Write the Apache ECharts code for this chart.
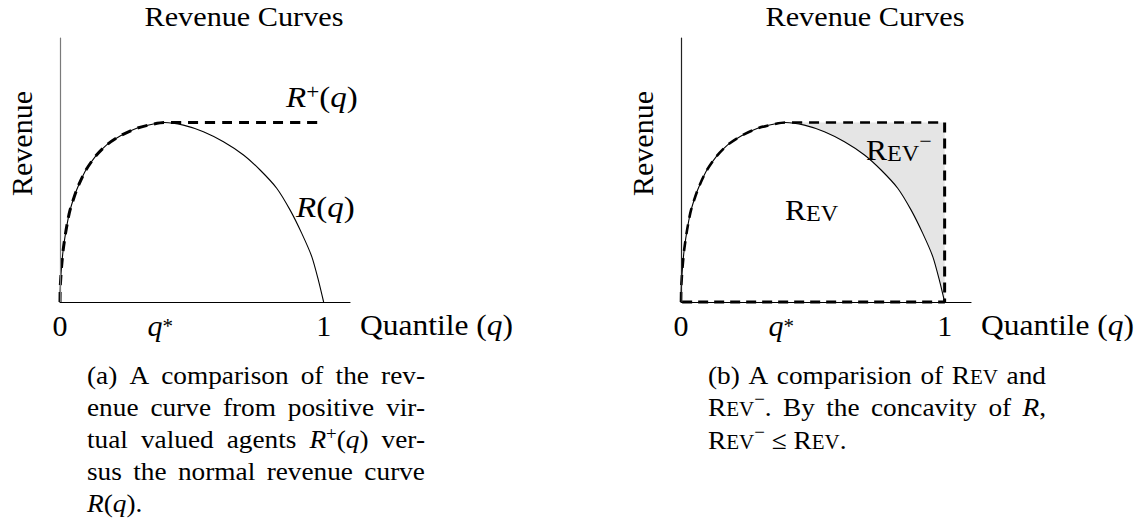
<!DOCTYPE html>
<html>
<head>
<meta charset="utf-8">
<script src="https://cdn.jsdelivr.net/npm/echarts@6/dist/echarts.min.js"></script>
<style>
  html, body { margin: 0; padding: 0; background: #fff; }
  #chart { width: 1143px; height: 522px; }
</style>
</head>
<body>
<div id="chart"></div>
<script>
// Quantile q and the revenue curve R(q) sampled along it
const quantile = [0, 0.001, 0.006, 0.012, 0.021, 0.030, 0.038, 0.063, 0.095, 0.133, 0.177, 0.228,
                  0.291, 0.354, 0.395, 0.468, 0.544, 0.620, 0.696, 0.759, 0.822, 0.873, 0.917,
                  0.955, 0.980, 1];
const revenue  = [0, 0.058, 0.134, 0.197, 0.260, 0.311, 0.348, 0.424, 0.494, 0.550, 0.595, 0.629,
                  0.658, 0.674, 0.680, 0.670, 0.645, 0.607, 0.557, 0.500, 0.431, 0.348, 0.260,
                  0.172, 0.083, 0];
// Ticks on the quantile axis
const tickValues = [0, 0.38, 1];
const tickLabels = ['{rm|0}', '{it|q}{ast|*}', '{rm|1}'];

// R+(q): revenue from positive virtual values only, flat after the peak
const revenuePlus = revenue.map((v, i) => Math.max(...revenue.slice(0, i + 1)));
const peak = Math.max(...revenue);

const rCurve = quantile.map((q, i) => [q, revenue[i]]);
const rPlusCurve = quantile.map((q, i) => [q, revenuePlus[i]]);
const boxEdge = [[1, peak], [1, 0], [0, 0]];

const SERIF = '"Liberation Serif", "Times New Roman", Times, serif';

// Rich-text styles: roman, italic, small caps and raised tokens sharing one baseline.
// Each token is drawn centred in a box of the given height, aligned to the top or
// bottom of the line, so the box height sets where its baseline lands.
function richStyles(f, lhMul) {
  const h = Math.round(f * (lhMul || 1.2));
  const k = 0.32;
  const fs = Math.round(f * 0.7);
  const fsc = Math.round(f * 0.76);
  const base = { fontFamily: SERIF, color: '#000', lineHeight: h };
  const raised = (r) => Object.assign({}, base, {
    fontSize: fs, height: h + 2 * k * (f - fs) - 2 * r * f, verticalAlign: 'top'
  });
  return {
    rm:  Object.assign({}, base, { fontSize: f, height: h, verticalAlign: 'bottom' }),
    it:  Object.assign({}, base, { fontSize: f, height: h, verticalAlign: 'bottom', fontStyle: 'italic' }),
    sc:  Object.assign({}, base, { fontSize: fsc, height: h - 2 * k * (f - fsc), verticalAlign: 'bottom' }),
    sup: raised(0.3),
    supm: raised(0.42),
    ast: raised(0.06)
  };
}

const measureCtx = document.createElement('canvas').getContext('2d');
function richWidth(str, st) {
  let w = 0;
  str.replace(/\{(\w+)\|([^}]*)\}/g, (m, name, txt) => {
    const s = st[name];
    measureCtx.font = (s.fontStyle || 'normal') + ' ' + s.fontSize + 'px ' + SERIF;
    w += measureCtx.measureText(txt).width;
    return m;
  });
  return w;
}
function wrapWord(w) { return w.indexOf('{') >= 0 ? w : '{rm|' + w + '}'; }

// y is the centre of the line box; the baseline sits about 0.32 em below it
function textEl(x, y, rich, f, align, opts) {
  const o = opts || {};
  return {
    type: 'text', x: x, y: y, rotation: o.rotation || 0, scaleX: o.sx || 1, silent: true, z: 100,
    style: {
      text: rich, rich: richStyles(f, o.lh), fill: '#000',
      align: align, textAlign: align,
      verticalAlign: 'middle', textVerticalAlign: 'middle'
    }
  };
}

// Justified paragraph: every line but the last spans the full width
function paragraph(lines, x0, y0, width, lead, f, sx) {
  const st = richStyles(f);
  const spaceW = richWidth('{rm| }', st) * sx;
  const out = [];
  lines.forEach((line, li) => {
    const words = line.split(' ').map(wrapWord);
    const widths = words.map(w => richWidth(w, st) * sx);
    const total = widths.reduce((a, b) => a + b, 0);
    const last = li === lines.length - 1;
    const gap = (last || words.length < 2) ? spaceW : (width - total) / (words.length - 1);
    let x = x0;
    words.forEach((w, i) => {
      out.push(textEl(x, y0 + li * lead, w, f, 'left', { sx: sx }));
      x += widths[i] + gap;
    });
  });
  return out;
}

const captionA = [
  '(a) A comparison of the rev-',
  'enue curve from positive vir-',
  'tual valued agents {it|R}{sup|+}{rm|(}{it|q}{rm|)} ver-',
  'sus the normal revenue curve',
  '{it|R}{rm|(}{it|q}{rm|).}'
];
const captionB = [
  '(b) A comparision of {rm|R}{sc|EV} and',
  '{rm|R}{sc|EV}{supm|\u2212}{rm|.} By the concavity of {it|R}{rm|,}',
  '{rm|R}{sc|EV}{supm|\u2212} {rm|\u2264} {rm|R}{sc|EV}{rm|.}'
];

const FIG = 30;

function xAxisFor(grid) {
  return {
    gridIndex: grid, type: 'value', min: 0, max: 1.1, z: 5,
    axisLine: { show: true, onZero: true, lineStyle: { color: '#000', width: 1.2 } },
    axisTick: { show: false },
    splitLine: { show: false },
    axisLabel: {
      show: true, customValues: tickValues, margin: 5,
      formatter: (v) => {
        let best = 0;
        tickValues.forEach((t, i) => { if (Math.abs(t - v) < Math.abs(tickValues[best] - v)) best = i; });
        return tickLabels[best];
      },
      rich: richStyles(FIG)
    }
  };
}
function yAxisFor(grid, color) {
  return {
    gridIndex: grid, type: 'value', min: 0, max: 1, z: 5,
    axisLine: { show: true, lineStyle: { color: color, width: 1.2 } },
    axisTick: { show: false }, axisLabel: { show: false }, splitLine: { show: false }
  };
}

function lineSeries(grid, data, style, extra) {
  return Object.assign({
    type: 'line', xAxisIndex: grid, yAxisIndex: grid, data: data,
    showSymbol: false, symbol: 'none', smooth: 0.25, clip: false,
    lineStyle: style, silent: true
  }, extra || {});
}

const solid = { color: '#000', width: 1.1 };
const dashed = { color: '#000', width: 3, type: [10, 7] };
const hidden = { opacity: 0, width: 0 };

const graphic = [].concat(
  [
    textEl(244, 16.5, '{rm|Revenue Curves}', 28, 'center', { lh: 0.85, sx: 1.08 }),
    textEl(865, 16.5, '{rm|Revenue Curves}', 28, 'center', { lh: 0.85, sx: 1.08 }),
    textEl(21, 143.5, '{rm|Revenue}', FIG, 'center', { rotation: Math.PI / 2 }),
    textEl(642, 143.5, '{rm|Revenue}', FIG, 'center', { rotation: Math.PI / 2 }),
    textEl(360, 325.5, '{rm|Quantile (}{it|q}{rm|)}', FIG, 'left', { sx: 1.05 }),
    textEl(981, 325.5, '{rm|Quantile (}{it|q}{rm|)}', FIG, 'left', { sx: 1.05 }),
    textEl(286, 97.5, '{it|R}{sup|+}{rm|(}{it|q}{rm|)}', FIG, 'left', { sx: 1.1 }),
    textEl(296, 207, '{it|R}{rm|(}{it|q}{rm|)}', FIG, 'left', { sx: 1.1 }),
    textEl(866, 150.5, '{rm|R}{sc|EV}{supm|\u2212}', FIG, 'left', { sx: 1.05 }),
    textEl(785, 210.5, '{rm|R}{sc|EV}', FIG, 'left', { sx: 1.05 })
  ],
  paragraph(captionA, 87, 375, 338, 32, 26, 1.05),
  paragraph(captionB, 708, 375, 338, 32.5, 26, 1.05)
);

const chart = echarts.init(document.getElementById('chart'), null, { renderer: 'svg' });
chart.setOption({
  animation: false,
  backgroundColor: '#fff',
  grid: [
    { left: 60, top: 38, width: 290, height: 264 },
    { left: 681, top: 38, width: 290, height: 264 }
  ],
  xAxis: [xAxisFor(0), xAxisFor(1)],
  yAxis: [yAxisFor(0, '#7a7a7a'), yAxisFor(1, '#222')],
  series: [
    // left panel: R(q) and R+(q)
    lineSeries(0, rCurve, solid, { z: 3 }),
    lineSeries(0, rPlusCurve, dashed, { z: 4 }),
    // right panel: REV- is the area under R+ that lies above R
    lineSeries(1, rPlusCurve, hidden, { z: 1, areaStyle: { color: '#e5e5e5', opacity: 1 } }),
    lineSeries(1, rCurve, hidden, { z: 2, areaStyle: { color: '#ffffff', opacity: 1 } }),
    lineSeries(1, rCurve, solid, { z: 3 }),
    lineSeries(1, rPlusCurve, { color: '#000', width: 2.6, type: [10, 7] }, { z: 4 }),
    lineSeries(1, boxEdge, { color: '#000', width: 3, type: [10, 6] }, { z: 4, smooth: false })
  ],
  graphic: graphic
});
</script>
</body>
</html>
